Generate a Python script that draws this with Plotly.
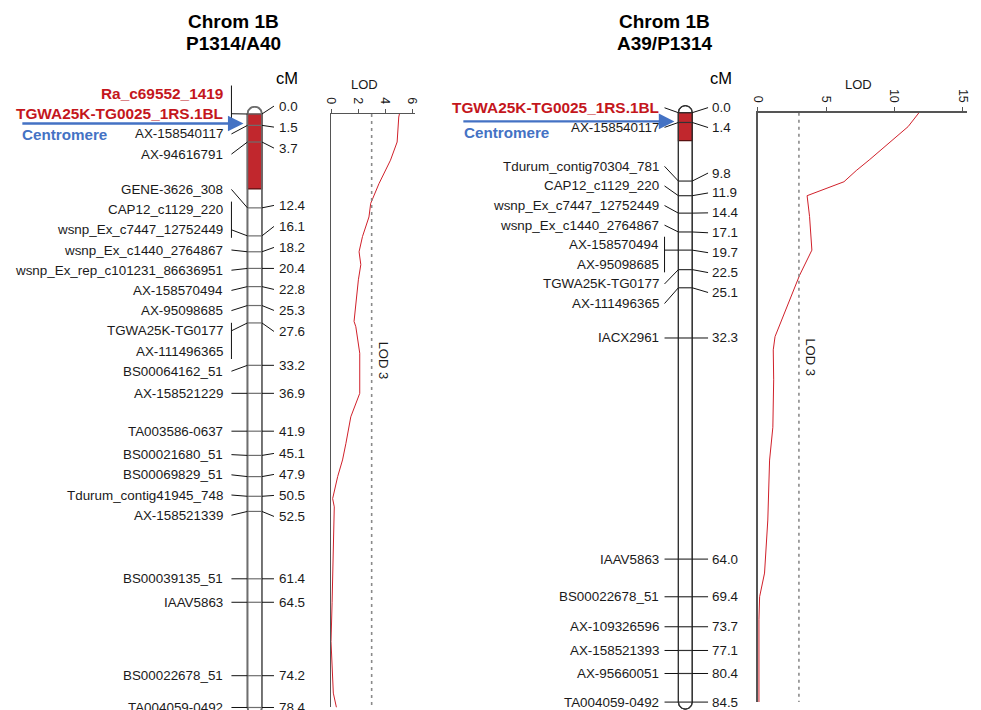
import numpy as np
import plotly.graph_objects as go

# ---------------- data ----------------
left_title = ["Chrom 1B", "P1314/A40"]
left_markers = ["Ra_c69552_1419", "TGWA25K-TG0025_1RS.1BL", "AX-158540117", "AX-94616791",
                "GENE-3626_308", "CAP12_c1129_220", "wsnp_Ex_c7447_12752449", "wsnp_Ex_c1440_2764867",
                "wsnp_Ex_rep_c101231_86636951", "AX-158570494", "AX-95098685", "TGWA25K-TG0177",
                "AX-111496365", "BS00064162_51", "AX-158521229", "TA003586-0637", "BS00021680_51",
                "BS00069829_51", "Tdurum_contig41945_748", "AX-158521339", "BS00039135_51",
                "IAAV5863", "BS00022678_51", "TA004059-0492"]
left_cm = [0.0, 0.0, 1.5, 3.7, 12.4, 16.1, 16.1, 18.2, 20.4, 22.8, 25.3, 27.6, 27.6, 33.2, 36.9,
           41.9, 45.1, 47.9, 50.5, 52.5, 61.4, 64.5, 74.2, 78.4]
left_highlight = ["Ra_c69552_1419", "TGWA25K-TG0025_1RS.1BL"]
left_interval = [0.0, 9.9]
left_centromere = 1.25
left_lod_pos = [0.0, 0.4, 3.7, 6.1, 9.2, 11.8, 13.6, 16.2, 18.2, 19.9, 21.9, 25.0, 27.4, 28.1, 31.6,
                36.9, 40.0, 43.5, 45.7, 47.9, 50.1, 50.8, 51.9, 58.9, 64.5, 69.7, 72.1, 76.5, 78.4]
left_lod = [5.05, 5.0, 4.88, 4.39, 3.54, 2.93, 2.8, 2.32, 2.07, 2.2, 2.02, 1.83, 1.7, 1.83, 2.12,
            2.12, 1.46, 1.1, 0.85, 0.49, 0.2, 0.12, 0.24, 0.12, 0.08, 0.0, 0.05, 0.17, 0.4]
left_lod_ticks = [0, 2, 4, 6]

right_title = ["Chrom 1B", "A39/P1314"]
right_markers = ["TGWA25K-TG0025_1RS.1BL", "AX-158540117", "Tdurum_contig70304_781", "CAP12_c1129_220",
                 "wsnp_Ex_c7447_12752449", "wsnp_Ex_c1440_2764867", "AX-158570494", "AX-95098685",
                 "TGWA25K-TG0177", "AX-111496365", "IACX2961", "IAAV5863", "BS00022678_51",
                 "AX-109326596", "AX-158521393", "AX-95660051", "TA004059-0492"]
right_cm = [0.0, 1.4, 9.8, 11.9, 14.4, 17.1, 19.7, 19.7, 22.5, 25.1, 32.3, 64.0, 69.4, 73.7, 77.1,
            80.4, 84.5]
right_highlight = ["TGWA25K-TG0025_1RS.1BL"]
right_interval = [0.0, 4.0]
right_centromere = 1.25
right_lod_pos = [0.0, 2.0, 6.7, 8.3, 9.9, 11.9, 14.9, 19.7, 23.3, 32.1, 34.0, 38.3, 45.1, 49.8,
                 58.4, 63.1, 66.0, 69.4, 72.7, 84.5]
right_lod = [11.8, 11.0, 8.2, 7.2, 6.3, 3.6, 3.78, 3.95, 3.05, 1.25, 1.12, 1.15, 1.09, 0.85,
             0.72, 0.6, 0.48, 0.12, 0.07, 0.07]
right_lod_ticks = [0, 5, 10, 15]

lod_threshold = 3

# ---------------- layout constants (pixels) ----------------
W, H = 981, 710
FONT = "Liberation Sans, Arial, Helvetica, sans-serif"
RED = "#C4161C"
BLUE = "#4472C4"
TXT = "#1a1a1a"
LABEL_SIZE = 13.4

LEFT = dict(title=left_title, markers=left_markers, cm=left_cm, hl=left_highlight,
            interval=left_interval, cen=left_centromere, lod_pos=left_lod_pos, lod=left_lod,
            ticks=left_lod_ticks,
            top=114.0, scale=7.57, cx=250.5, hw=7.3, name_x=220, conn_l=227, conn_r=270,
            cm_x=273, arrow_x0=14, text_x0=13, title_x=229, cm_title_x=283.5, lod_x0=327.7,
            lod_unit=13.7, lod_max=6.2, lod_title=2.45, name_gap=20.2, cm_gap=21.0,
            bar_col="#6e6e6e", bar_w=1.6, yax="y", lod_xax="x2", lod_yax="y3")
RIGHT = dict(title=right_title, markers=right_markers, cm=right_cm, hl=right_highlight,
             interval=right_interval, cen=right_centromere, lod_pos=right_lod_pos, lod=right_lod,
             ticks=right_lod_ticks,
             top=112.7, scale=6.975, cx=686.0, hw=7.0, name_x=661, conn_l=665, conn_r=709,
             cm_x=711, arrow_x0=460, text_x0=460, title_x=665, cm_title_x=722, lod_x0=759.5,
             lod_unit=13.8, lod_max=15.3, lod_title=7.4, name_gap=19.6, cm_gap=19.9,
             bar_col="#333333", bar_w=1.2, yax="y2", lod_xax="x3", lod_yax="y4")


def spread(targets, gap):
    """Least-squares label placement with a minimum gap (pool adjacent violators)."""
    u = [t - i * gap for i, t in enumerate(targets)]
    blocks = []
    for val in u:
        blocks.append([val, 1])
        while len(blocks) > 1 and blocks[-2][0] / blocks[-2][1] > blocks[-1][0] / blocks[-1][1]:
            s, c = blocks.pop()
            blocks[-1][0] += s
            blocks[-1][1] += c
    v = []
    for s, c in blocks:
        v += [s / c] * c
    return [vi + i * gap for i, vi in enumerate(v)]


def py(px):
    return 1 - px / H


fig = go.Figure()
annotations = []


def build(P):
    yax = P["yax"]
    sc = P["scale"]
    cx, hw = P["cx"], P["hw"]
    xl, xr = cx - hw, cx + hw
    end = max(P["cm"])
    ry = hw / sc

    # chromosome body with rounded ends
    t1 = np.linspace(np.pi, 0, 30)
    t2 = np.linspace(0, -np.pi, 30)
    bx = np.concatenate([cx + hw * np.cos(t1), cx + hw * np.cos(t2), [cx - hw]])
    by = np.concatenate([-ry * np.sin(t1), end - ry * np.sin(t2), [0]])
    fig.add_trace(go.Scatter(x=bx, y=by, mode="lines", fill="toself", fillcolor="white",
                             line=dict(color=P["bar_col"], width=P["bar_w"]),
                             xaxis="x", yaxis=yax, hoverinfo="skip"))
    # highlighted interval
    a, b = P["interval"]
    fig.add_trace(go.Scatter(x=[xl, xr, xr, xl, xl], y=[a, a, b, b, a], mode="lines",
                             fill="toself", fillcolor="#C1272D",
                             line=dict(color="#5a1010", width=1.2),
                             xaxis="x", yaxis=yax, hoverinfo="skip"))
    # marker lines across the chromosome
    ucm = sorted(set(P["cm"]))
    mx, my = [], []
    for c in ucm:
        mx += [xl, xr, None]
        my += [c, c, None]
    fig.add_trace(go.Scatter(x=mx, y=my, mode="lines",
                             line=dict(color=P["bar_col"], width=1.2),
                             xaxis="x", yaxis=yax, hoverinfo="skip"))
    # outline on top
    fig.add_trace(go.Scatter(x=bx, y=by, mode="lines",
                             line=dict(color=P["bar_col"], width=P["bar_w"]),
                             xaxis="x", yaxis=yax, hoverinfo="skip"))

    # labels
    name_y = spread(P["cm"], P["name_gap"] / sc)
    cm_y = spread(ucm, P["cm_gap"] / sc)
    cxs, cys = [], []
    i = 0
    n = len(P["cm"])
    while i < n:
        j = i
        while j + 1 < n and P["cm"][j + 1] == P["cm"][i]:
            j += 1
        c = P["cm"][i]
        if j == i:
            cxs += [P["conn_l"], xl, None]
            cys += [name_y[i], c, None]
        else:
            lo, hi = name_y[i], name_y[j]
            cxs += [P["conn_l"], P["conn_l"], None]
            cys += [lo - 8 / sc, hi + 8 / sc, None]
            yy = min(max(c, lo), hi)
            cxs += [P["conn_l"], xl, None]
            cys += [yy, c, None]
        i = j + 1
    for c, ly in zip(ucm, cm_y):
        cxs += [xr, P["conn_r"], None]
        cys += [c, ly, None]
    fig.add_trace(go.Scatter(x=cxs, y=cys, mode="lines", line=dict(color="#111111", width=1),
                             xaxis="x", yaxis=yax, hoverinfo="skip"))

    for name, ly in zip(P["markers"], name_y):
        hl = name in P["hl"]
        annotations.append(dict(
            x=P["name_x"], y=ly, xref="x", yref=yax, text=("<b>%s</b>" % name) if hl else name,
            showarrow=False, xanchor="right", yanchor="middle",
            font=dict(family=FONT, size=15.4 if hl else LABEL_SIZE, color=RED if hl else TXT)))
    for c, ly in zip(ucm, cm_y):
        annotations.append(dict(
            x=P["cm_x"], y=ly, xref="x", yref=yax, text="%.1f" % c, showarrow=False,
            xanchor="left", yanchor="middle", font=dict(family=FONT, size=LABEL_SIZE, color=TXT)))

    # centromere arrow
    annotations.append(dict(
        x=xl - 4, y=P["cen"], xref="x", yref=yax, ax=P["arrow_x0"], ay=P["cen"],
        axref="x", ayref=yax, text="", showarrow=True, arrowhead=2, arrowsize=1.3,
        arrowwidth=2.4, arrowcolor=BLUE, standoff=0))
    annotations.append(dict(
        x=P["text_x0"], y=P["cen"] + 11 / sc, xref="x", yref=yax, text="<b>Centromere</b>",
        showarrow=False, xanchor="left", yanchor="middle",
        font=dict(family=FONT, size=15.2, color=BLUE)))

    # titles
    annotations.append(dict(x=P["title_x"] / W, y=py(21.5), xref="paper", yref="paper",
                            text="<b>%s</b>" % P["title"][0], showarrow=False,
                            xanchor="center", yanchor="middle",
                            font=dict(family=FONT, size=19, color="#000")))
    annotations.append(dict(x=P["title_x"] / W, y=py(43.5), xref="paper", yref="paper",
                            text="<b>%s</b>" % P["title"][1], showarrow=False,
                            xanchor="center", yanchor="middle",
                            font=dict(family=FONT, size=19, color="#000")))
    annotations.append(dict(x=P["cm_title_x"] / W, y=py(78), xref="paper", yref="paper",
                            text="cM", showarrow=False, xanchor="center", yanchor="middle",
                            font=dict(family=FONT, size=16.5, color="#000")))

    # LOD profile
    lx, ly_ = P["lod_xax"], P["lod_yax"]
    fig.add_trace(go.Scatter(x=P["lod"], y=P["lod_pos"], mode="lines",
                             line=dict(color="#D0202A", width=1),
                             xaxis=lx, yaxis=ly_, hoverinfo="skip"))
    fig.add_trace(go.Scatter(x=[lod_threshold, lod_threshold], y=[0, end], mode="lines",
                             line=dict(color="#8a8a8a", width=1.6, dash="3px,4px"),
                             xaxis=lx, yaxis=ly_, hoverinfo="skip"))
    annotations.append(dict(x=lod_threshold, y=0.415 * end, xref=lx, yref=ly_, text="LOD 3",
                            showarrow=False, textangle=90, xanchor="center", yanchor="middle",
                            xshift=12, font=dict(family=FONT, size=13, color=TXT)))
    annotations.append(dict(x=P["lod_title"], y=py(84.5), xref=lx, yref="paper", text="LOD",
                            showarrow=False, xanchor="center", yanchor="middle",
                            font=dict(family=FONT, size=13, color=TXT)))

    lod_axis_x = dict(domain=[P["lod_x0"] / W, (P["lod_x0"] + P["lod_max"] * P["lod_unit"]) / W],
                      range=[0, P["lod_max"]], side="top", anchor=ly_, showline=True,
                      linecolor="#555555", linewidth=1.5, ticks="outside", ticklen=4,
                      tickcolor="#555555", tickvals=P["ticks"], tickangle=90,
                      tickfont=dict(family=FONT, size=12.5, color=TXT), showgrid=False,
                      zeroline=False, fixedrange=True)
    lod_axis_y = dict(domain=[py(P["top"] + end * sc), py(P["top"])], range=[end, 0],
                      anchor=lx, showline=True, linecolor="#555555", linewidth=1.5,
                      showticklabels=False, ticks="", showgrid=False, zeroline=False,
                      fixedrange=True)
    return lod_axis_x, lod_axis_y


lx2, ly3 = build(LEFT)
lx3, ly4 = build(RIGHT)

fig.update_layout(
    width=W, height=H, margin=dict(l=0, r=0, t=0, b=0),
    paper_bgcolor="white", plot_bgcolor="rgba(0,0,0,0)", showlegend=False,
    xaxis=dict(domain=[0, 1], range=[0, W], visible=False, fixedrange=True),
    yaxis=dict(domain=[0, 1], range=[(H - LEFT["top"]) / LEFT["scale"], -LEFT["top"] / LEFT["scale"]],
               visible=False, fixedrange=True),
    yaxis2=dict(domain=[0, 1], range=[(H - RIGHT["top"]) / RIGHT["scale"], -RIGHT["top"] / RIGHT["scale"]],
                visible=False, overlaying="y", anchor="x", fixedrange=True),
    xaxis2=lx2, yaxis3=ly3, xaxis3=lx3, yaxis4=ly4,
    annotations=annotations,
    font=dict(family=FONT),
)

fig.write_html("out.html", config={"displayModeBar": False, "staticPlot": True},
               post_script="document.body.style.margin='0';document.body.style.overflow='hidden';")
